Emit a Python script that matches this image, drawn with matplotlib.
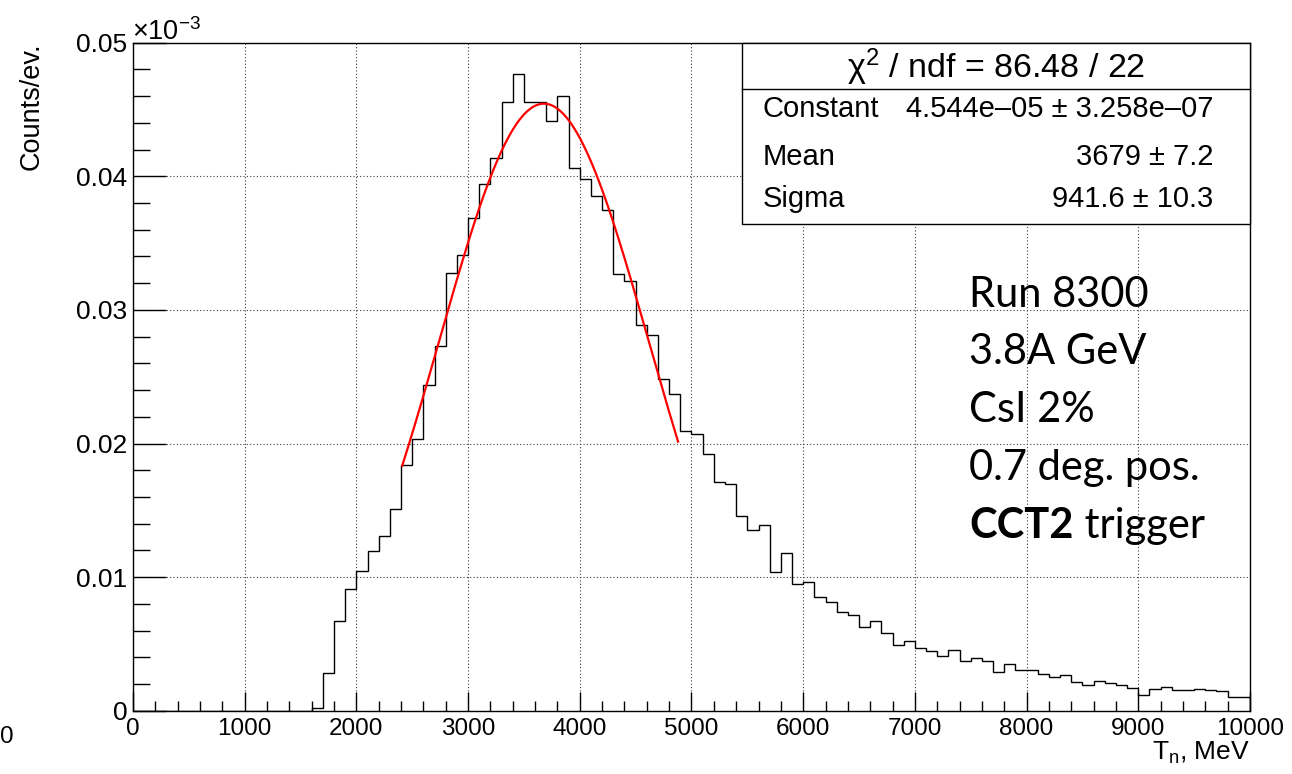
import numpy as np
import matplotlib
matplotlib.use("Agg")
import matplotlib.pyplot as plt
from matplotlib.patches import Rectangle
from matplotlib.ticker import MultipleLocator, FuncFormatter

# Données lues sur l'histogramme (unités de 1e-3 counts/ev., pas de 100 MeV)
bin_edges = np.arange(0, 10001, 100)
counts_e3 = [
    0, 0, 0, 0, 0, 0, 0, 0, 0, 0,
    0, 0, 0, 0, 0, 0, 0.00022, 0.00284, 0.00671, 0.00909,
    0.01046, 0.01195, 0.0131, 0.0151, 0.0184, 0.0203, 0.0244, 0.0273, 0.0328, 0.0341,
    0.0369, 0.0394, 0.0414, 0.04554, 0.04763, 0.0456, 0.0456, 0.04416, 0.04603, 0.0406,
    0.0398, 0.0385, 0.0375, 0.0327, 0.0322, 0.0289, 0.0281, 0.0248, 0.0237, 0.0209,
    0.0207, 0.0192, 0.0171, 0.0170, 0.0146, 0.0135, 0.0139, 0.0104, 0.0118, 0.0095,
    0.0096, 0.0085, 0.0081, 0.0074, 0.0072, 0.0063, 0.0067, 0.0058, 0.0049, 0.0052,
    0.0047, 0.00446, 0.00409, 0.00456, 0.00371, 0.00391, 0.00371, 0.00288, 0.00348, 0.00308,
    0.00303, 0.00276, 0.00251, 0.00266, 0.00213, 0.00190, 0.00223, 0.00208, 0.00195, 0.00168,
    0.00120, 0.00160, 0.00175, 0.00153, 0.00155, 0.00160, 0.00153, 0.00145, 0.00105, 0.00105,
]

# Paramètres du fit gaussien (boîte de stats)
fit_const = 0.04544
fit_mean = 3679.0
fit_sigma = 941.6
fit_range = (2410, 4880)
stat_title = "\u03c7$^{2}$ / ndf = 86.48 / 22"
stat_names = ["Constant", "Mean", "Sigma"]
stat_values = ["4.544e\u201305 \u00b1 3.258e\u201307", "3679 \u00b1 7.2", "941.6 \u00b1 10.3"]
info_lines = ["Run 8300", "3.8A GeV", "CsI 2%", "0.7 deg. pos."]

plt.rcParams['font.family'] = ['Liberation Sans', 'DejaVu Sans']
plt.rcParams['mathtext.fontset'] = 'custom'
plt.rcParams['mathtext.rm'] = 'Liberation Sans'
plt.rcParams['mathtext.it'] = 'Liberation Sans'

fig = plt.figure(figsize=(12.92, 7.74), dpi=100)
ax = fig.add_axes([0.1029, 0.0818, 0.8646, 0.8630])

ax.stairs(counts_e3, bin_edges, color='black', lw=1.0, zorder=3)

xf = np.linspace(fit_range[0], fit_range[1], 300)
yf = fit_const * np.exp(-0.5 * ((xf - fit_mean) / fit_sigma) ** 2)
ax.plot(xf, yf, color='red', lw=1.6, zorder=4)

ax.set_xlim(0, 10000)
ax.set_ylim(0, 0.05)
ax.xaxis.set_major_locator(MultipleLocator(1000))
ax.xaxis.set_minor_locator(MultipleLocator(200))
ax.yaxis.set_major_locator(MultipleLocator(0.01))
ax.yaxis.set_minor_locator(MultipleLocator(0.002))
ax.yaxis.set_major_formatter(FuncFormatter(lambda v, p: "0" if abs(v) < 1e-9 else "%g" % round(v, 3)))
ax.xaxis.set_major_formatter(FuncFormatter(lambda v, p: "%d" % v))

ax.tick_params(axis='x', which='major', direction='in', length=14, width=1, labelsize=17.5, pad=5)
ax.tick_params(axis='x', which='minor', direction='in', length=7, width=1)
ax.tick_params(axis='y', which='major', direction='in', length=24, width=1, labelsize=19, pad=4)
ax.tick_params(axis='y', which='minor', direction='in', length=12, width=1)
ax.tick_params(top=False, right=False, which='both')
for s in ax.spines.values():
    s.set_linewidth(1.0)

ax.grid(True, which='major', color='0.25', linestyle=(0, (1, 2)), linewidth=0.8, zorder=0)
ax.set_axisbelow(True)

# Boîte de statistiques style ROOT
bx0, by0 = 0.5452, 0.7286
ax.add_patch(Rectangle((bx0, by0), 1 - bx0, 1 - by0, transform=ax.transAxes,
                       facecolor='white', edgecolor='black', lw=1.0, zorder=5, clip_on=False))
ax.plot([bx0, 1], [0.9302, 0.9302], transform=ax.transAxes, color='black', lw=1.0, zorder=6, clip_on=False)
ax.text(0.7726, 0.9465, stat_title, transform=ax.transAxes, ha='center', va='baseline',
        fontsize=24.5, zorder=7)
row_y = [0.8883, 0.8169, 0.7536]
for name, val, yy in zip(stat_names, stat_values, row_y):
    ax.text(0.564, yy, name, transform=ax.transAxes, ha='left', va='baseline', fontsize=21, zorder=7)
    ax.text(0.9669, yy, val, transform=ax.transAxes, ha='right', va='baseline', fontsize=21, zorder=7)

# Texte ajouté
info_y = [0.6039, 0.519, 0.4326, 0.3454]
for line, yy in zip(info_lines, info_y):
    ax.text(0.7487, yy, line, transform=ax.transAxes, ha='left', va='baseline',
            fontsize=30, family='Lato', zorder=7)
t_bold = ax.text(0.7487, 0.2581, "CCT2", transform=ax.transAxes, ha='left', va='baseline',
                 fontsize=30, family='Lato', fontweight='bold', zorder=7)
ax.annotate(" trigger", xy=(1, 0), xycoords=t_bold, ha='left', va='bottom',
            fontsize=30, family='Lato', zorder=7)

# Titres des axes
fig.text(32 / 1292, 1 - 42 / 774, "Counts/ev.", rotation=90, ha='center', va='top', fontsize=19.5)
fig.text(1250 / 1292, 1 - 760 / 774, "T$_{\\mathrm{n}}$, MeV", ha='right', va='baseline', fontsize=19)
fig.text(132 / 1292, 1 - 40 / 774, "\u00d710$^{-3}$", ha='left', va='baseline', fontsize=19.5)
fig.text(0.0, 1 - 743 / 774, "0", ha='left', va='baseline', fontsize=17.5)

fig.savefig("out.png", dpi=100)
